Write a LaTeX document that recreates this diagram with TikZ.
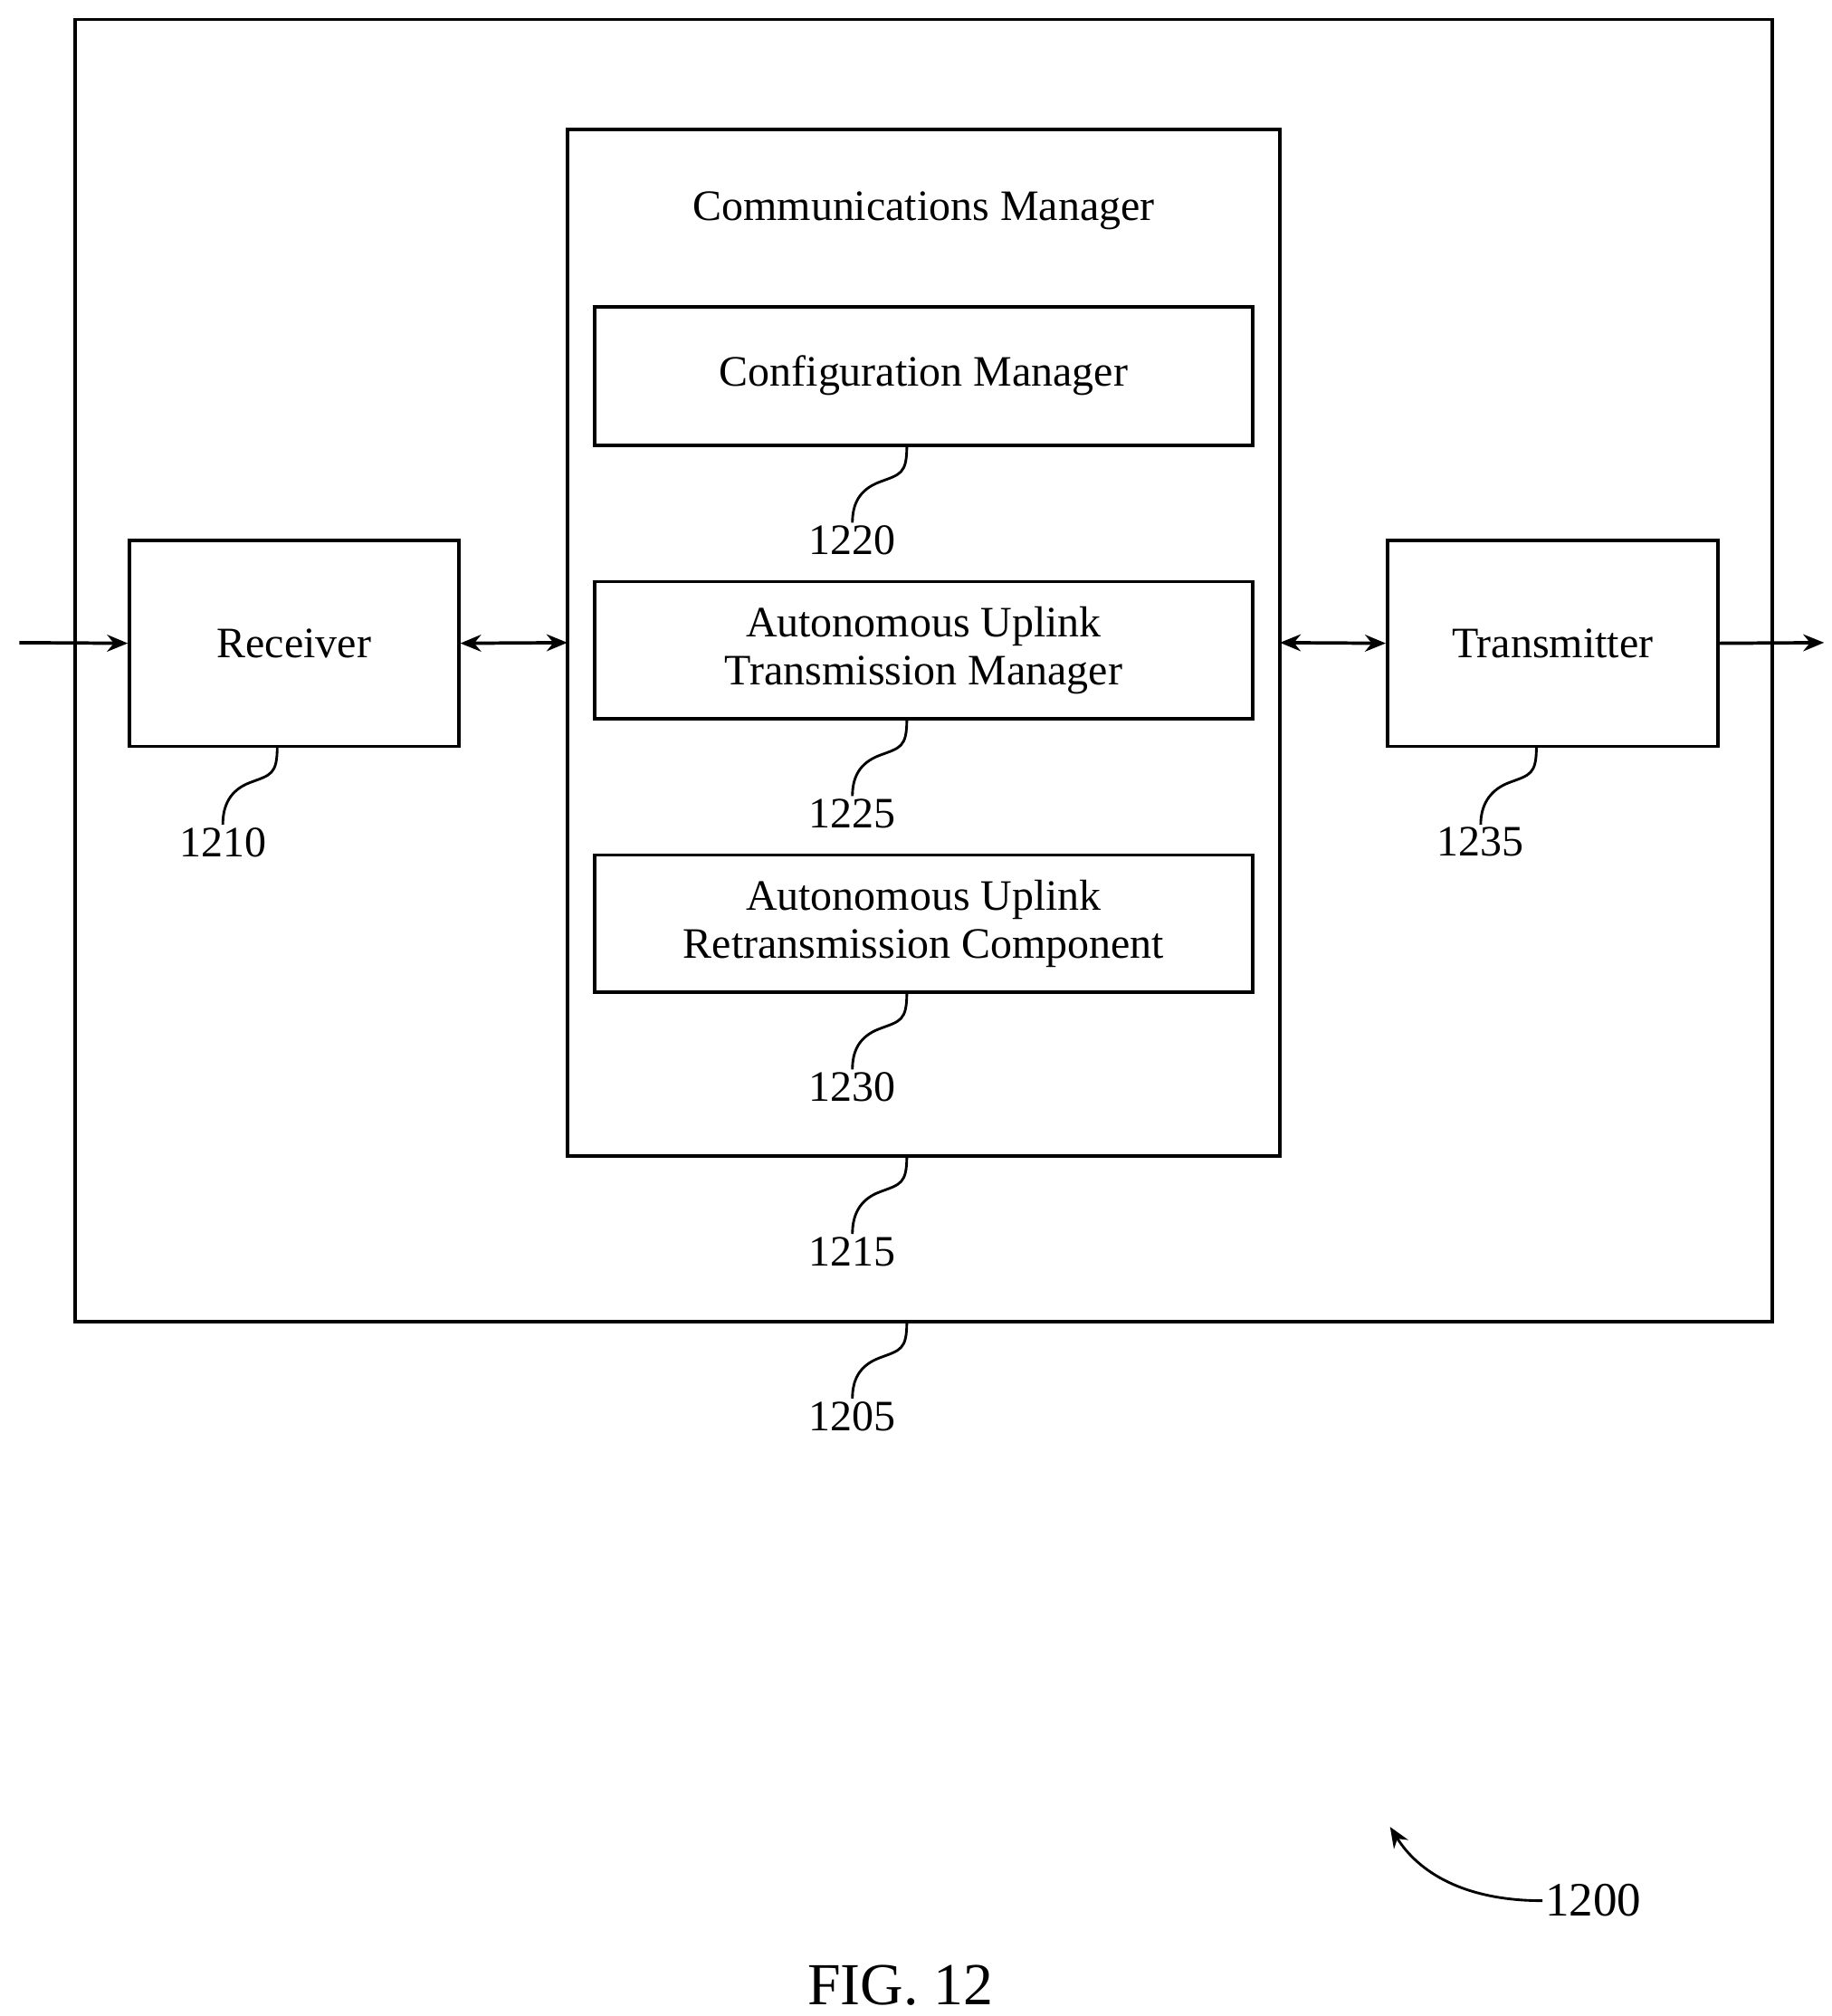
\documentclass[tikz,border=0pt]{standalone}
\usepackage{fontspec}
\setmainfont{Liberation Serif}
\usetikzlibrary{arrows.meta}
\begin{document}
\begin{tikzpicture}[x=1pt,y=-1pt,line width=2.6pt,
  box/.style={draw,line width=2.6pt},
  txt/.style={font=\fontsize{33.5}{37}\selectfont,align=center,inner sep=1pt},
  arr/.style={-{Stealth[length=16pt,width=13pt]}},
  barr/.style={{Stealth[length=16pt,width=13pt]}-{Stealth[length=16pt,width=13pt]}}]
\useasboundingbox (0,0) rectangle (1414,1556);
\newcommand\lead[2]{\draw[line width=2pt] (#1) .. controls +(0,22) and +(16,-6) .. ++(-21,28) .. controls +(-16,6) and +(0,-14) .. (#2);}
\draw[box] (58,15) rectangle (1368,1020);
\coordinate (o) at (700,1020);
\draw[box] (438,100) rectangle (988,892);
\coordinate (cmw) at (438,496); \coordinate (cme) at (988,496); \coordinate (cms) at (700,892);
\node[txt] (cmt) at (713,163) {Communications Manager};
\draw[box] (459,237) rectangle (967,344); \coordinate (c1) at (700,344);
\node[txt] (cfg) at (713,290) {Configuration Manager};
\draw[box] (459,449) rectangle (967,555); \coordinate (c2) at (700,555);
\node[txt] (au) at (713,502) {Autonomous Uplink\\Transmission Manager};
\draw[box] (459,660) rectangle (967,766); \coordinate (c3) at (700,766);
\node[txt] (ar) at (713,713) {Autonomous Uplink\\Retransmission Component};
\node[draw,line width=2.6pt,minimum width=254pt,minimum height=159pt,txt] (rx) at (227,496.5) {Receiver};
\node[draw,line width=2.6pt,minimum width=255pt,minimum height=159pt,txt] (tx) at (1198.5,496.5) {Transmitter};
\node[txt] (l1220) at (658,417) {1220};
\node[txt] (l1225) at (658,628) {1225};
\node[txt] (l1230) at (658,839) {1230};
\node[txt] (l1215) at (658,966) {1215};
\node[txt] (l1205) at (658,1093) {1205};
\node[txt] (l1210) at (172,650) {1210};
\node[txt] (l1235) at (1143,650) {1235};
\lead{c1}{l1220.north}
\lead{c2}{l1225.north}
\lead{c3}{l1230.north}
\lead{cms}{l1215.north}
\lead{o}{l1205.north}
\coordinate (rs) at (214,576); \coordinate (ts) at (1186,576);
\lead{rs}{l1210.north}
\lead{ts}{l1235.north}
\coordinate (in) at (15,496); \coordinate (out) at (1408,496);
\draw[arr] (in) -- (rx.west);
\draw[barr] (rx.east) -- (cmw);
\draw[barr] (cme) -- (tx.west);
\draw[arr] (tx.east) -- (out);
\node[txt,font=\fontsize{37}{40}\selectfont] (l1200) at (1230,1467) {1200};
\draw[arr,line width=2pt] (l1200.west) .. controls (1130,1467) and (1095,1445) .. (1073,1410);
\node[txt,font=\fontsize{46}{50}\selectfont] (fig) at (695,1532) {FIG. 12};
\end{tikzpicture}
\end{document}
